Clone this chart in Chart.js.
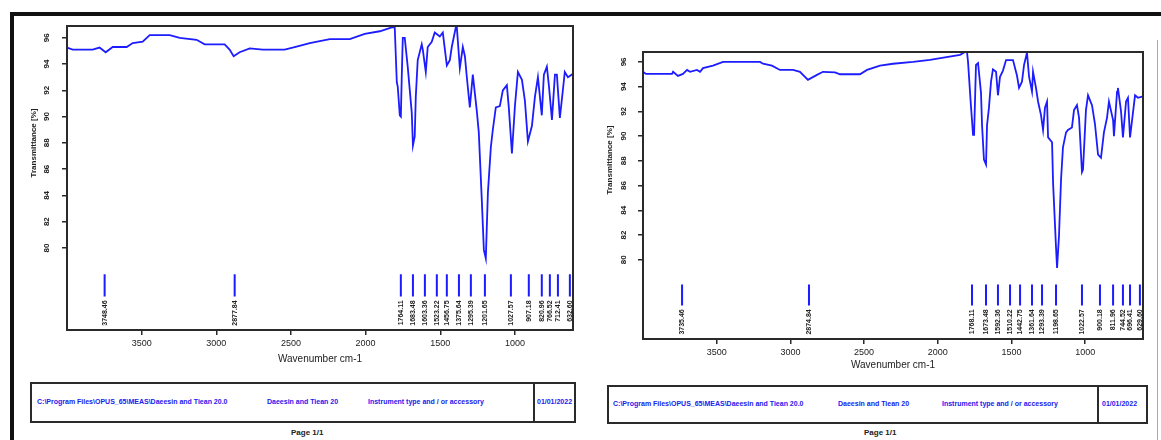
<!DOCTYPE html>
<html>
<head>
<meta charset="utf-8">
<script src="https://cdn.jsdelivr.net/npm/chart.js@4.4.1/dist/chart.umd.min.js"></script>
<style>
body{margin:0;background:#fff;width:1161px;height:440px;overflow:hidden;position:relative;font-family:"Liberation Sans",Arial,sans-serif}
canvas{position:absolute}
.line{position:absolute;background:#111}
.box{position:absolute;border:2px solid #2a2a2a;box-sizing:border-box}
.txt{position:absolute;font-size:7px;font-weight:bold;color:#2020ee;white-space:nowrap;line-height:8px}
.page{position:absolute;font-size:8px;font-weight:bold;color:#222;white-space:nowrap}
</style>
</head>
<body>
<div class="line" style="left:10px;top:12px;width:1151px;height:4px"></div>
<div class="line" style="left:10px;top:12px;width:4px;height:428px"></div>
<div class="line" style="left:1157px;top:40px;width:1px;height:400px;background:#aaa"></div>

<canvas id="left" width="580" height="372" style="left:0;top:0"></canvas>
<canvas id="right" width="571" height="380" style="left:590px;top:0"></canvas>

<div class="box" style="left:30px;top:382px;width:546px;height:41px"></div>
<div class="line" style="left:533px;top:382px;width:2px;height:41px;background:#2a2a2a"></div>
<div class="txt" style="left:37px;top:398px">C:\Program Files\OPUS_65\MEAS\Daeesin and Tiean 20.0</div>
<div class="txt" style="left:267px;top:398px">Daeesin and Tiean 20</div>
<div class="txt" style="left:368px;top:398px">Instrument type and / or accessory</div>
<div class="txt" style="left:537px;top:398px">01/01/2022</div>
<div class="page" style="left:291px;top:428px">Page 1/1</div>

<div class="box" style="left:607px;top:385px;width:541px;height:39px"></div>
<div class="line" style="left:1097px;top:385px;width:2px;height:39px;background:#2a2a2a"></div>
<div class="txt" style="left:613px;top:400px">C:\Program Files\OPUS_65\MEAS\Daeesin and Tiean 20.0</div>
<div class="txt" style="left:838px;top:400px">Daeesin and Tiean 20</div>
<div class="txt" style="left:942px;top:400px">Instrument type and / or accessory</div>
<div class="txt" style="left:1102px;top:400px">01/01/2022</div>
<div class="page" style="left:864px;top:428px">Page 1/1</div>

<script>
// x ticks / y ticks shared by both spectra
const xTicks = [1000, 1500, 2000, 2500, 3000, 3500];
const yTicks = [80, 82, 84, 86, 88, 90, 92, 94, 96];

// left spectrum
const leftWn = [4000,3962,3828,3782,3741,3694,3600,3560,3493,3446,3312,3245,3132,3078,2944,2911,2884,2844,2776,2689,2542,2475,2374,2240,2106,2006,1905,1825,1805,1791,1785,1771,1764,1758,1751,1738,1718,1691,1683,1671,1664,1651,1624,1617,1597,1584,1557,1537,1503,1483,1456,1436,1423,1396,1389,1369,1349,1335,1322,1302,1282,1255,1242,1222,1208,1195,1181,1161,1148,1128,1101,1081,1054,1041,1020,1000,980,953,933,913,886,866,846,820,806,786,772,752,732,719,699,679,666,645,618,611];
const leftT = [95.26,95.1,95.1,95.26,94.9,95.3,95.3,95.6,95.7,96.2,96.2,96.0,95.85,95.5,95.5,95.1,94.6,94.9,95.2,95.1,95.1,95.3,95.6,95.9,95.9,96.3,96.5,96.8,96.8,92.6,92.3,90.1,90.0,93.0,96.0,96.0,93.8,90.3,87.8,88.5,91.5,94.3,95.5,95.1,93.4,95.3,95.7,96.4,96.1,96.4,93.9,94.3,95.3,96.8,96.8,93.7,95.3,94.6,93.0,90.7,93.2,90.4,88.8,83.7,79.85,79.2,84.2,87.7,89.0,90.7,90.8,92.0,92.4,90.7,87.2,90.8,93.4,92.8,91.2,88.1,89.3,91.5,93.0,90.1,93.2,93.8,92.3,89.75,93.2,93.2,89.9,92.0,93.4,93.0,93.2,93.3];
const leftPeaks = [3748,2877,1764,1683,1603,1523,1456,1375,1295,1201,1027,907,820,766,712,632];
const leftPeakLabels = ["3748.46","2877.84","1764.11","1683.48","1603.36","1523.22","1456.75","1375.64","1295.39","1201.65","1027.57","907.18","820.96","766.52","712.41","632.60"];

// right spectrum
const rightWn = [4000,3980,3803,3796,3763,3729,3701,3681,3634,3613,3593,3525,3457,3206,3186,3125,3071,2982,2935,2881,2820,2779,2697,2664,2528,2480,2392,2304,2168,2053,1931,1849,1816,1802,1795,1775,1761,1754,1741,1727,1707,1700,1687,1673,1666,1653,1639,1626,1605,1592,1578,1558,1537,1490,1463,1449,1429,1415,1395,1381,1361,1354,1334,1320,1300,1286,1273,1259,1252,1225,1218,1198,1191,1178,1164,1151,1130,1117,1090,1076,1056,1042,1022,1015,995,981,954,934,913,893,873,852,839,811,805,784,778,757,744,723,710,696,676,662,642,615,608];
const rightT = [95.2,95.03,95.03,95.2,94.87,95.03,95.35,95.2,95.35,95.2,95.5,95.7,96.0,96.0,95.85,95.7,95.35,95.35,95.2,94.55,94.95,95.2,95.15,95.0,95.0,95.35,95.7,95.85,96.0,96.16,96.4,96.57,96.8,96.8,96.0,92.4,90.1,90.1,95.75,95.9,93.5,90.9,88.1,87.7,90.9,92.3,94.4,95.4,95.2,93.3,94.8,95.3,96.15,96.15,94.9,93.9,94.4,95.75,96.75,94.8,93.6,95.2,93.9,92.8,91.7,90.5,92.3,92.8,89.9,89.5,86.2,81.0,79.35,81.9,86.5,89.1,90.3,90.5,90.7,92.1,92.5,91.5,87.1,87.3,92.1,93.3,92.5,91.0,88.5,88.25,90.3,91.5,92.8,91.3,90.0,93.6,93.9,92.0,89.9,92.8,93.1,89.9,91.9,93.3,93.1,93.2,93.2];
const rightPeaks = [3735,2874,1768,1673,1592,1510,1442,1361,1293,1198,1022,900,811,744,696,629];
const rightPeakLabels = ["3735.46","2874.84","1768.11","1673.48","1592.36","1510.22","1442.75","1361.64","1293.39","1198.65","1022.57","900.18","811.96","744.52","696.41","629.60"];

const FONT = '"Liberation Sans", Arial, sans-serif';

const decor = {
    id: 'decor',
    afterDraw(chart, args, o) {
        const ctx = chart.ctx
        const a = chart.chartArea
        const x = chart.scales.x, y = chart.scales.y
        ctx.save()
        ctx.strokeStyle = '#2a2a2a'
        ctx.lineWidth = 2
        ctx.strokeRect(a.left, a.top, a.right - a.left, a.bottom - a.top)

        ctx.fillStyle = '#222'
        ctx.textBaseline = 'middle'
        ctx.textAlign = 'center'
        ctx.font = 'bold 8px ' + FONT
        for (let v of yTicks) {
            ctx.save()
            ctx.translate(o.tickX, y.getPixelForValue(v))
            ctx.rotate(-Math.PI / 2)
            ctx.fillText(String(v), 0, 0)
            ctx.restore()
        }
        ctx.save()
        ctx.translate(o.titleX, o.titleY)
        ctx.rotate(-Math.PI / 2)
        ctx.fillText('Transmittance [%]', 0, 0)
        ctx.restore()

        ctx.textAlign = 'right'
        ctx.font = 'bold 7px ' + FONT
        o.peaks.forEach((p, i) => {
            ctx.save()
            ctx.translate(x.getPixelForValue(p), y.getPixelForValue(o.labelY))
            ctx.rotate(-Math.PI / 2)
            ctx.fillText(o.labels[i], 0, 0)
            ctx.restore()
        })
        ctx.restore()
    }
};

function drawSpectrum(id, wn, t, peaks, labels, s) {
    const spectrum = wn.map((w, i) => ({x: w, y: t[i]}))
    const marks = peaks.flatMap(p => [{x: p, y: 78.0}, {x: p, y: 76.3}, {x: p, y: null}])
    const axisGrid = {drawOnChartArea: false, drawTicks: true, tickLength: 5, color: '#2a2a2a', lineWidth: 1.5}

    return new Chart(document.getElementById(id).getContext('2d'), {
        type: 'line',
        data: {
            datasets: [
                {data: spectrum, borderColor: '#1c1cff', borderWidth: 1.8, pointRadius: 0, tension: 0},
                {data: marks, borderColor: '#1c1cff', borderWidth: 2, pointRadius: 0, spanGaps: false}
            ]
        },
        options: {
            responsive: false,
            animation: false,
            devicePixelRatio: 1,
            layout: {padding: {top: s.top, right: s.right, left: 0, bottom: 0}},
            plugins: {
                legend: {display: false},
                tooltip: {enabled: false},
                decor: {peaks: peaks, labels: labels, labelY: 76.0, tickX: s.tickX, titleX: s.titleX, titleY: s.titleY}
            },
            scales: {
                x: {
                    type: 'linear', reverse: true, min: s.xMin, max: 4000,
                    afterBuildTicks: sc => { sc.ticks = xTicks.map(v => ({value: v})) },
                    afterFit: sc => { sc.height = s.xHeight },
                    ticks: {font: {size: 9, family: FONT}, color: '#222', padding: 3, maxRotation: 0, callback: v => String(v)},
                    grid: axisGrid,
                    border: {display: true, color: '#2a2a2a', width: 2},
                    title: {display: true, text: 'Wavenumber cm-1', color: '#222', font: {size: 10, family: FONT}, padding: {top: 0, bottom: s.titlePad}}
                },
                y: {
                    min: s.yMin, max: s.yMax,
                    afterBuildTicks: sc => { sc.ticks = yTicks.map(v => ({value: v})) },
                    afterFit: sc => { sc.width = s.yWidth },
                    ticks: {display: false},
                    grid: axisGrid,
                    border: {display: true, color: '#2a2a2a', width: 2}
                }
            }
        },
        plugins: [decor]
    })
}

drawSpectrum('left', leftWn, leftT, leftPeaks, leftPeakLabels,
    {top: 26, right: 7, yWidth: 67, xHeight: 42, titlePad: 7, xMin: 611, yMin: 73.75, yMax: 96.9, tickX: 47, titleX: 34, titleY: 143})
drawSpectrum('right', rightWn, rightT, rightPeaks, rightPeakLabels,
    {top: 52, right: 18, yWidth: 53, xHeight: 41, titlePad: 9, xMin: 608, yMin: 73.6, yMax: 96.8, tickX: 34, titleX: 20, titleY: 160})
</script>
</body>
</html>
